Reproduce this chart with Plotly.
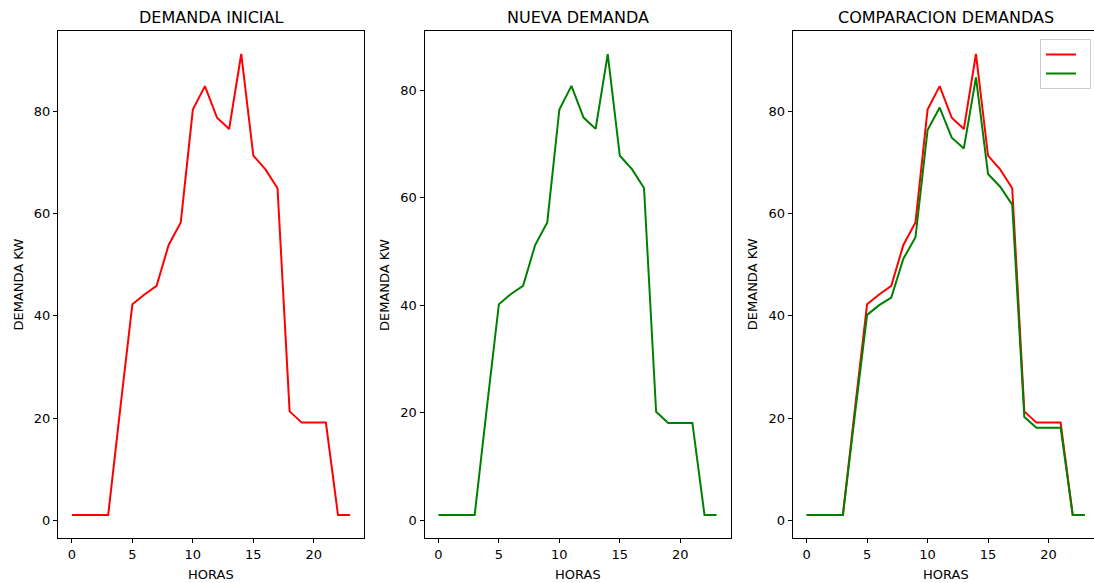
import plotly.graph_objects as go

horas = list(range(24))
demanda_inicial = [1, 1, 1, 1, 21.9, 42.3, 44.2, 45.9, 53.9, 58.3, 80.4, 85.0,
                   78.8, 76.6, 91.3, 71.4, 68.7, 65.0, 21.3, 19.1, 19.1, 19.1, 1, 1]
nueva_demanda = [1, 1, 1, 1, 20.8, 40.2, 42.1, 43.6, 51.2, 55.4, 76.4, 80.8,
                 74.9, 72.8, 86.7, 67.8, 65.3, 61.8, 20.2, 18.1, 18.1, 18.1, 1, 1]
x_ticks = [0, 5, 10, 15, 20]
y_ticks = [0, 20, 40, 60, 80]
titles = ["DEMANDA INICIAL", "NUEVA DEMANDA", "COMPARACION DEMANDAS"]

W, H = 1094, 583
TOP, BOT = 31, 538
PH = BOT - TOP
RED = "#ff0000"
GREEN = "#008000"
FONT = "DejaVu Sans"

fig = go.Figure()
fig.add_trace(go.Scatter(x=horas, y=demanda_inicial, mode="lines", line=dict(color=RED, width=2),
                         xaxis="x", yaxis="y", showlegend=False))
fig.add_trace(go.Scatter(x=horas, y=nueva_demanda, mode="lines", line=dict(color=GREEN, width=2),
                         xaxis="x2", yaxis="y2", showlegend=False))
fig.add_trace(go.Scatter(x=horas, y=demanda_inicial, mode="lines", line=dict(color=RED, width=2),
                         xaxis="x3", yaxis="y3", name=" ", showlegend=True))
fig.add_trace(go.Scatter(x=horas, y=nueva_demanda, mode="lines", line=dict(color=GREEN, width=2),
                         xaxis="x3", yaxis="y3", name=" ", showlegend=True))

lefts = [58, 424.5, 792.7]
doms = [(lefts[0] / W, (lefts[0] + 306) / W), (lefts[1] / W, (lefts[1] + 306) / W), (lefts[2] / W, 1.0)]
xranges = [[-1.15, 24.15], [-1.15, 24.15], [-1.15, 23.76]]
yranges = [[-3.5, 95.8], [-3.29, 91.0], [-3.5, 95.8]]

common_axis = dict(showline=True, linecolor="black", linewidth=1, ticks="outside", ticklen=4,
                   tickcolor="black", showgrid=False, zeroline=False, automargin=False,
                   tickfont=dict(family=FONT, size=13, color="black"))

layout = dict(
    width=W, height=H, paper_bgcolor="white", plot_bgcolor="white",
    margin=dict(l=0, r=0, t=TOP, b=H - BOT, pad=0), font=dict(family=FONT, color="black"),
    legend=dict(x=1091 / W, xanchor="right", y=1 - (39 - TOP) / PH, yanchor="top",
                bordercolor="#cccccc", borderwidth=1, bgcolor="white",
                font=dict(family=FONT, size=10), itemwidth=30, tracegroupgap=0),
)
annotations = []
for i in range(3):
    sx = "" if i == 0 else str(i + 1)
    layout["xaxis" + sx] = dict(common_axis, domain=list(doms[i]), range=xranges[i], tickvals=x_ticks,
                                mirror=True, anchor="y" + sx)
    layout["yaxis" + sx] = dict(common_axis, domain=[0, 1], range=yranges[i], tickvals=y_ticks,
                                mirror=(i < 2), anchor="x" + sx)
    cx = (lefts[i] + 153) / W
    annotations.append(dict(text=titles[i], xref="paper", yref="paper",
                            x=cx, y=1 + (TOP - 17) / PH,
                            xanchor="center", yanchor="middle", showarrow=False,
                            font=dict(family=FONT, size=16, color="black")))
    annotations.append(dict(text="HORAS", xref="paper", yref="paper",
                            x=cx, y=-(574 - BOT) / PH,
                            xanchor="center", yanchor="middle", showarrow=False,
                            font=dict(family=FONT, size=13, color="black")))
    annotations.append(dict(text="DEMANDA KW", xref="paper", yref="paper", textangle=-90,
                            x=(lefts[i] - 40) / W, y=0.5,
                            xanchor="center", yanchor="middle", showarrow=False,
                            font=dict(family=FONT, size=13, color="black")))
layout["annotations"] = annotations
fig.update_layout(**layout)

fig.write_html("out.html", config={"displayModeBar": False},
               post_script="document.body.style.margin='0';document.body.style.overflow='hidden';")
